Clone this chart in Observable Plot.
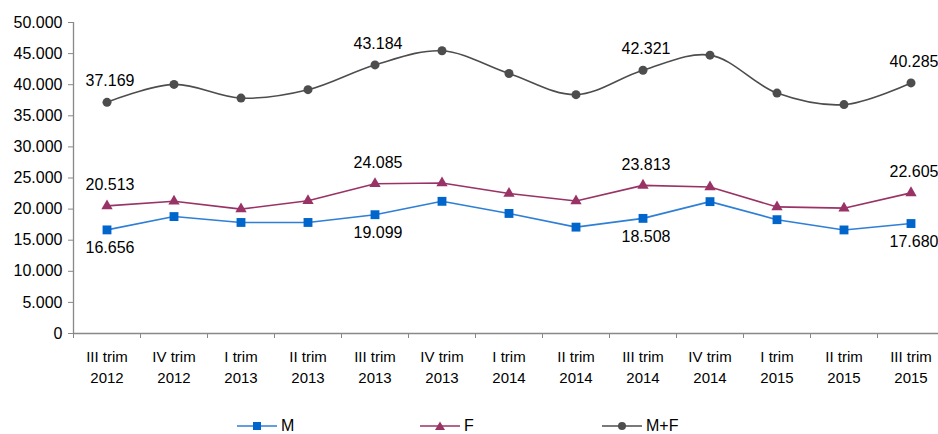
<!DOCTYPE html>
<html><head><meta charset="utf-8">
<script src="https://cdn.jsdelivr.net/npm/d3@7"></script>
<script src="https://cdn.jsdelivr.net/npm/@observablehq/plot@0.6"></script>
<style>
html,body{margin:0;padding:0;background:#fff;overflow:hidden;}
body{font-family:"Liberation Sans",Arial,sans-serif;}
#legend{position:relative;width:938px;height:34px;}
.item{position:absolute;top:17px;height:18px;display:flex;align-items:center;font-size:16px;color:#000;line-height:18px;}
.item svg{margin-right:4px;}
</style></head><body>
<div id="chart"></div>
<div id="legend"></div>
<script>
const quarters = ["III trim","IV trim","I trim","II trim","III trim","IV trim","I trim","II trim","III trim","IV trim","I trim","II trim","III trim"];
const years = ["2012","2012","2013","2013","2013","2013","2014","2014","2014","2014","2015","2015","2015"];
const M  = [16656, 18800, 17850, 17850, 19099, 21250, 19300, 17100, 18508, 21200, 18300, 16650, 17680];
const F  = [20513, 21250, 20000, 21350, 24085, 24200, 22500, 21300, 23813, 23550, 20350, 20150, 22605];
const MF = [37169, 40050, 37850, 39200, 43184, 45450, 41800, 38400, 42321, 44750, 38650, 36800, 40285];
const labelIdx = [0, 4, 8, 12];
const yTicks = [0, 5000, 10000, 15000, 20000, 25000, 30000, 35000, 40000, 45000, 50000];

const series = [
  {name: "M", values: M, line: "#2f7fd6", fill: "#0066cc", symbol: "square", r: 5},
  {name: "F", values: F, line: "#993366", fill: "#993366", symbol: "triangle", r: 4.2},
  {name: "M+F", values: MF, line: "#4d4d4d", fill: "#4d4d4d", symbol: "circle", r: 4.5}
];

const fmt = d3.formatLocale({decimal: ",", thousands: ".", grouping: [3], currency: ["", ""]}).format(",d");
const idx = quarters.map((_, i) => i);
const rows = s => idx.map(i => ({i, v: s.values[i]}));
const font = '"Liberation Sans", Arial, sans-serif';

const marks = [
  Plot.axisY({ticks: yTicks, tickSize: 5, tickPadding: 6, tickFormat: fmt, fontSize: 16, stroke: "#888", color: "#000", label: null}),
  Plot.axisX({ticks: idx, tickSize: 0, tickPadding: 13, tickFormat: i => quarters[i] + "\n" + years[i], fontSize: 15, lineHeight: 1.44, label: null}),
  Plot.axisX({ticks: idx.concat([idx.length]).map(i => i - 0.5), tickSize: 5, tickFormat: () => "", stroke: "#888", label: null}),
  Plot.ruleY([0], {stroke: "#888", strokeWidth: 1.3}),
  Plot.ruleX([-0.5], {y1: 0, y2: 50000, stroke: "#888", strokeWidth: 1.3})
];
for (const s of series) {
  marks.push(Plot.line(rows(s), {x: "i", y: "v", stroke: s.line, strokeWidth: 1.6, curve: s.name === "M+F" ? "catmull-rom" : "linear"}));
  marks.push(Plot.dot(rows(s), {x: "i", y: "v", symbol: s.symbol, r: s.r, fill: s.fill, stroke: "none"}));
}
const lab = s => rows(s).filter(d => labelIdx.includes(d.i));
marks.push(Plot.text(lab(series[2]), {x: "i", y: "v", text: d => fmt(d.v), dx: 3, dy: -21, fontSize: 16, fill: "#000"}));
marks.push(Plot.text(lab(series[1]), {x: "i", y: "v", text: d => fmt(d.v), dx: 3, dy: -21, fontSize: 16, fill: "#000"}));
marks.push(Plot.text(lab(series[0]), {x: "i", y: "v", text: d => fmt(d.v), dx: 3, dy: 18, fontSize: 16, fill: "#000"}));

const chart = Plot.plot({
  width: 938, height: 400,
  marginTop: 22, marginBottom: 67, marginLeft: 73, marginRight: 0,
  style: {fontFamily: font, fontSize: "15px", color: "#000", background: "#fff", overflow: "visible"},
  x: {type: "linear", domain: [-0.5, quarters.length - 0.5], range: [73, 944]},
  y: {domain: [0, 50000]},
  marks
});
document.getElementById("chart").appendChild(chart);

const legend = document.getElementById("legend");
const lefts = [237, 420, 602];
series.forEach((s, k) => {
  const div = document.createElement("div");
  div.className = "item";
  div.style.left = lefts[k] + "px";
  const sym = s.symbol === "square" ? `<rect x="16" y="4" width="8" height="8" fill="${s.fill}"/>`
    : s.symbol === "triangle" ? `<path d="M20,3.5 L25,12 L15,12 Z" fill="${s.fill}"/>`
    : `<circle cx="20" cy="8" r="4" fill="${s.fill}"/>`;
  div.innerHTML = `<svg width="40" height="16"><line x1="0" x2="40" y1="8" y2="8" stroke="${s.line}" stroke-width="1.6"/>${sym}</svg><span>${s.name}</span>`;
  legend.appendChild(div);
});
</script>
</body></html>
